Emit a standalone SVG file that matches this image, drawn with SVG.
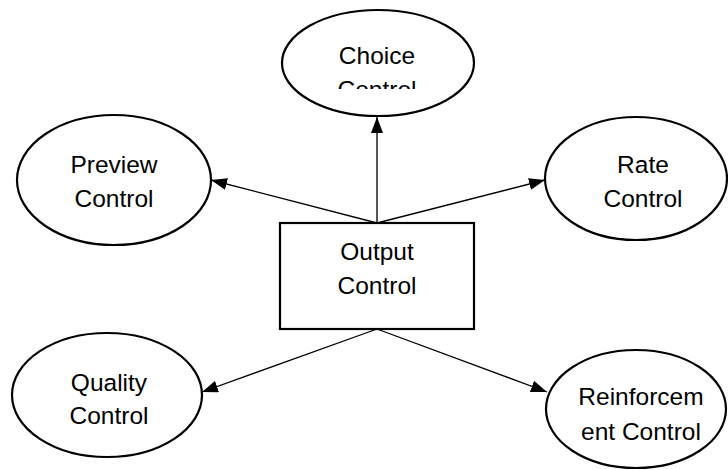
<svg xmlns="http://www.w3.org/2000/svg" width="728" height="470" viewBox="0 0 728 470">
<style>
.shape{fill:#fff;stroke:#000;stroke-width:2.2}
.lbl{font-family:"Liberation Sans","Open Sans",Arial,sans-serif;font-size:24.5px;fill:#000;text-anchor:middle}
.conn line{stroke:#000;stroke-width:1.3;fill:none}
</style>
<defs>
<marker id="arr" viewBox="0 0 16 12" refX="16" refY="6" markerWidth="16" markerHeight="12" markerUnits="userSpaceOnUse" orient="auto">
<path d="M0,0 L16,6 L0,12 Z" fill="#000"/>
</marker>
<clipPath id="clipChoice"><rect x="282" y="10" width="192" height="79"/></clipPath>
</defs>
<rect width="728" height="470" fill="#fff"/>
<g id="connectors" class="conn">
<line x1="377" y1="223" x2="377" y2="117" marker-end="url(#arr)"/>
<line x1="377" y1="223" x2="211" y2="180" marker-end="url(#arr)"/>
<line x1="377" y1="223" x2="545" y2="180" marker-end="url(#arr)"/>
<line x1="377" y1="329" x2="202" y2="392" marker-end="url(#arr)"/>
<line x1="377" y1="329" x2="547" y2="392" marker-end="url(#arr)"/>
</g>
<g id="choice">
<ellipse class="shape" cx="378" cy="63" rx="96" ry="53"/>
<g clip-path="url(#clipChoice)">
<text class="lbl" x="377" y="64">Choice</text>
<text class="lbl" x="377" y="98">Control</text>
</g>
</g>
<g id="preview">
<ellipse class="shape" cx="114" cy="180" rx="97" ry="65"/>
<text class="lbl" x="114" y="173">Preview</text>
<text class="lbl" x="114" y="207">Control</text>
</g>
<g id="rate">
<ellipse class="shape" cx="636" cy="178.5" rx="91" ry="61.5"/>
<text class="lbl" x="643" y="173">Rate</text>
<text class="lbl" x="643" y="207">Control</text>
</g>
<g id="output">
<rect class="shape" x="280" y="223" width="194" height="106"/>
<text class="lbl" x="377" y="260">Output</text>
<text class="lbl" x="377" y="294">Control</text>
</g>
<g id="quality">
<ellipse class="shape" cx="107" cy="395" rx="95" ry="62"/>
<text class="lbl" x="109" y="391">Quality</text>
<text class="lbl" x="109" y="424">Control</text>
</g>
<g id="reinforcement">
<ellipse class="shape" cx="636" cy="409" rx="90" ry="59"/>
<text class="lbl" x="641" y="405">Reinforcem</text>
<text class="lbl" x="641" y="440">ent Control</text>
</g>
</svg>
